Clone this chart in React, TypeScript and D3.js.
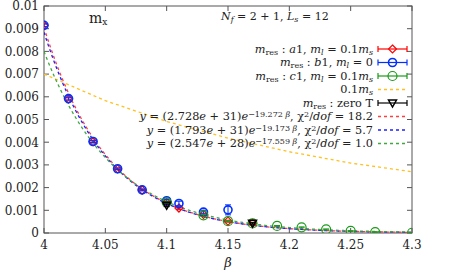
import React from "react";
import * as d3 from "d3";

// a1, m_l = 0.1 m_s
const betaA = [4.0, 4.02, 4.04, 4.06, 4.08, 4.1, 4.11, 4.13, 4.15, 4.17];
const mresA = [9.15e-3, 5.9e-3, 4.02e-3, 2.82e-3, 1.89e-3, 1.35e-3, 1.1e-3, 0.82e-3, 0.52e-3, 0.43e-3];
const errA = [0.06e-3, 0.05e-3, 0.04e-3, 0.03e-3, 0.03e-3, 0.05e-3, 0.06e-3, 0.05e-3, 0.04e-3, 0.03e-3];
// b1, m_l = 0
const betaB = [4.0, 4.02, 4.04, 4.06, 4.08, 4.1, 4.11, 4.13, 4.15];
const mresB = [9.15e-3, 5.92e-3, 4.03e-3, 2.83e-3, 1.9e-3, 1.42e-3, 1.3e-3, 0.92e-3, 1.02e-3];
const errB = [0.06e-3, 0.06e-3, 0.05e-3, 0.04e-3, 0.04e-3, 0.06e-3, 0.1e-3, 0.08e-3, 0.22e-3];
// c1, m_l = 0.1 m_s
const betaC = [4.1, 4.13, 4.15, 4.17, 4.19, 4.21, 4.23, 4.25, 4.27, 4.3];
const mresC = [1.35e-3, 0.78e-3, 0.52e-3, 0.42e-3, 0.31e-3, 0.25e-3, 0.16e-3, 0.09e-3, 0.04e-3, 0.01e-3];
const errC = [0.05e-3, 0.04e-3, 0.03e-3, 0.03e-3, 0.02e-3, 0.02e-3, 0.02e-3, 0.01e-3, 0.01e-3, 0.01e-3];
// zero T
const betaT = [4.1, 4.17];
const mresT = [1.22e-3, 0.43e-3];
const errT = [0.06e-3, 0.04e-3];
// 0.1 m_s
const betaMs = [4.0, 4.05, 4.1, 4.15, 4.2, 4.25, 4.3];
const ms01 = [7.0e-3, 5.83e-3, 4.91e-3, 4.18e-3, 3.58e-3, 3.08e-3, 2.7e-3];
// fits y = A e^{-b beta}
const fitA = [2.728e31, 1.793e31, 2.547e28];
const fitB = [19.272, 19.173, 17.559];

const xTicks = [4, 4.05, 4.1, 4.15, 4.2, 4.25, 4.3];
const yTicks = [0, 0.001, 0.002, 0.003, 0.004, 0.005, 0.006, 0.007, 0.008, 0.009, 0.01];

const RED = "#ff0000";
const BLUE = "#0030ff";
const GREEN = "#1a9a1a";
const YEL = "#ffc020";
const FONT = "DejaVu Serif";

const left = 44, right = 412, top = 6, bottom = 233;

const Diamond = ({ x, y, c }: any) => (
  <path d={`M${x},${y - 4}L${x + 4},${y}L${x},${y + 4}L${x - 4},${y}Z`} fill="none" stroke={c} strokeWidth={1.2} />
);
const Circ = ({ x, y, c, r = 4, w = 1.2 }: any) => (
  <circle cx={x} cy={y} r={r} fill="none" stroke={c} strokeWidth={w} />
);
const Tri = ({ x, y, c }: any) => (
  <path d={`M${x - 4},${y - 3}L${x + 4},${y - 3}L${x},${y + 4}Z`} fill="none" stroke={c} strokeWidth={1.5} />
);

export default function App() {
  const x = d3.scaleLinear().domain([4, 4.3]).range([left, right]);
  const y = d3.scaleLinear().domain([0, 0.01]).range([bottom, top]);

  const line = d3.line<[number, number]>().x((d) => x(d[0])).y((d) => y(d[1]));
  const grid = d3.range(4, 4.3001, 0.002);
  const fitColors = ["#ff4040", "#2020ff", "#40a840"];
  const fits = fitA.map((A, i) => line(grid.map((b) => [b, A * Math.exp(-fitB[i] * b)] as [number, number])));
  const msPath = line(betaMs.map((b, i) => [b, ms01[i]] as [number, number]));

  const errBars = (bs: number[], vs: number[], es: number[], c: string) =>
    bs.map((b, i) => (
      <g key={"e" + i} stroke={c} strokeWidth={1}>
        <line x1={x(b)} x2={x(b)} y1={y(vs[i] - es[i])} y2={y(vs[i] + es[i])} />
        <line x1={x(b) - 3} x2={x(b) + 3} y1={y(vs[i] - es[i])} y2={y(vs[i] - es[i])} />
        <line x1={x(b) - 3} x2={x(b) + 3} y1={y(vs[i] + es[i])} y2={y(vs[i] + es[i])} />
      </g>
    ));

  const rowY = [49, 62.5, 76, 89.5, 103, 116.5, 130, 143.5];
  const tx = 373;
  const s1 = 378, s2 = 407, sm = 392.5;
  const legendBar = (yy: number, c: string, mark: React.ReactNode) => (
    <g>
      <g stroke={c} strokeWidth={1.2}>
        <line x1={s1} x2={s2} y1={yy} y2={yy} />
        <line x1={s1} x2={s1} y1={yy - 3} y2={yy + 3} />
        <line x1={s2} x2={s2} y1={yy - 3} y2={yy + 3} />
      </g>
      {mark}
    </g>
  );
  const sub = (t: string) => (
    <tspan baselineShift="-25%" fontSize="8px" fontStyle="normal">{t}</tspan>
  );
  const mres = (
    <>
      <tspan fontStyle="italic">m</tspan>
      {sub("res")}
      <tspan> : </tspan>
    </>
  );
  const fitText = (a: string, e: string, b: string, chi: string) => (
    <>
      <tspan fontStyle="italic">y</tspan> = ({a}<tspan fontStyle="italic">e</tspan> + {e})
      <tspan fontStyle="italic">e</tspan>
      <tspan baselineShift="40%" fontSize="8px">−{b} <tspan fontStyle="italic">β</tspan></tspan>
      <tspan>, χ</tspan>
      <tspan baselineShift="40%" fontSize="8px">2</tspan>
      <tspan>/</tspan><tspan fontStyle="italic">dof</tspan> = {chi}
    </>
  );

  return (
    <svg width={457} height={274} style={{ position: "absolute", left: 0, top: 0 }} fontFamily={FONT}>
      <defs>
        <clipPath id="pc">
          <rect x={left} y={top} width={right - left} height={bottom - top} />
        </clipPath>
      </defs>
      <rect width={457} height={274} fill="#fff" />

      {/* frame and ticks */}
      <g stroke="#555" strokeWidth={1} fill="none">
        <rect x={left} y={top} width={right - left} height={bottom - top} />
        {yTicks.map((t) => (
          <g key={t}>
            <line x1={left} x2={left + 5} y1={y(t)} y2={y(t)} />
            <line x1={right} x2={right - 5} y1={y(t)} y2={y(t)} />
          </g>
        ))}
        {xTicks.map((t) => (
          <g key={t}>
            <line x1={x(t)} x2={x(t)} y1={bottom} y2={bottom - 5} />
            <line x1={x(t)} x2={x(t)} y1={top} y2={top + 5} />
          </g>
        ))}
      </g>
      <g fontSize="12px" fill="#222">
        {yTicks.map((t) => (
          <text key={t} x={39} y={y(t)} dy="0.36em" textAnchor="end">
            {t === 0 ? "0" : d3.format(".3~f")(t)}
          </text>
        ))}
        {xTicks.map((t) => (
          <text key={t} x={x(t)} y={249} textAnchor="middle">
            {d3.format("~g")(t)}
          </text>
        ))}
        <text x={228} y={267} textAnchor="middle" fontStyle="italic" fontSize="13px">β</text>
      </g>

      {/* titles */}
      <text x={89} y={23} fontSize="14px" fill="#222">
        m<tspan baselineShift="-25%" fontSize="9px">x</tspan>
      </text>
      <text x={221} y={20} fontSize="11px" fill="#222">
        <tspan fontStyle="italic">N</tspan>
        <tspan baselineShift="-25%" fontSize="8px" fontStyle="italic">f</tspan> = 2 + 1,{" "}
        <tspan fontStyle="italic">L</tspan>
        <tspan baselineShift="-25%" fontSize="8px" fontStyle="italic">s</tspan> = 12
      </text>

      {/* curves */}
      <g clipPath="url(#pc)" fill="none" strokeWidth={1.3} strokeDasharray="3,3">
        <path d={msPath || ""} stroke={YEL} />
        {fits.map((d, i) => (
          <path key={i} d={d || ""} stroke={fitColors[i]} />
        ))}
      </g>

      {/* points */}
      <g clipPath="url(#pc)">
        {errBars(betaA, mresA, errA, RED)}
        {betaA.map((b, i) => <Diamond key={i} x={x(b)} y={y(mresA[i])} c={RED} />)}
        {errBars(betaB, mresB, errB, BLUE)}
        {betaB.map((b, i) => <Circ key={i} x={x(b)} y={y(mresB[i])} c={BLUE} r={4} w={1.6} />)}
        {errBars(betaC, mresC, errC, GREEN)}
        {betaC.map((b, i) => <Circ key={i} x={x(b)} y={y(mresC[i])} c={GREEN} r={4.5} />)}
        {errBars(betaT, mresT, errT, "#000")}
        {betaT.map((b, i) => <Tri key={i} x={x(b)} y={y(mresT[i])} c="#000" />)}
      </g>

      {/* legend */}
      <g fontSize="11.3px" fill="#222" textAnchor="end">
        <text x={tx} y={rowY[0]} dy="0.35em">
          {mres}<tspan fontStyle="italic">a</tspan>1, <tspan fontStyle="italic">m</tspan>
          <tspan baselineShift="-25%" fontSize="8px" fontStyle="italic">l</tspan> = 0.1
          <tspan fontStyle="italic">m</tspan><tspan baselineShift="-25%" fontSize="8px" fontStyle="italic">s</tspan>
        </text>
        <text x={tx} y={rowY[1]} dy="0.35em">
          {mres}<tspan fontStyle="italic">b</tspan>1, <tspan fontStyle="italic">m</tspan>
          <tspan baselineShift="-25%" fontSize="8px" fontStyle="italic">l</tspan> = 0
        </text>
        <text x={tx} y={rowY[2]} dy="0.35em">
          {mres}<tspan fontStyle="italic">c</tspan>1, <tspan fontStyle="italic">m</tspan>
          <tspan baselineShift="-25%" fontSize="8px" fontStyle="italic">l</tspan> = 0.1
          <tspan fontStyle="italic">m</tspan><tspan baselineShift="-25%" fontSize="8px" fontStyle="italic">s</tspan>
        </text>
        <text x={tx} y={rowY[3]} dy="0.35em">
          0.1<tspan fontStyle="italic">m</tspan><tspan baselineShift="-25%" fontSize="8px" fontStyle="italic">s</tspan>
        </text>
        <text x={tx} y={rowY[4]} dy="0.35em">
          {mres}zero T
        </text>
        <text x={tx} y={rowY[5]} dy="0.35em">{fitText("2.728", "31", "19.272", "18.2")}</text>
        <text x={tx} y={rowY[6]} dy="0.35em">{fitText("1.793", "31", "19.173", "5.7")}</text>
        <text x={tx} y={rowY[7]} dy="0.35em">{fitText("2.547", "28", "17.559", "1.0")}</text>
      </g>
      {legendBar(rowY[0], RED, <Diamond x={sm} y={rowY[0]} c={RED} />)}
      {legendBar(rowY[1], BLUE, <Circ x={sm} y={rowY[1]} c={BLUE} r={4} w={1.6} />)}
      {legendBar(rowY[2], GREEN, <Circ x={sm} y={rowY[2]} c={GREEN} r={4.5} />)}
      <g fill="none" strokeWidth={1.3} strokeDasharray="3,3">
        <line x1={s1} x2={s2} y1={rowY[3]} y2={rowY[3]} stroke={YEL} />
        <line x1={s1} x2={s2} y1={rowY[5]} y2={rowY[5]} stroke={fitColors[0]} />
        <line x1={s1} x2={s2} y1={rowY[6]} y2={rowY[6]} stroke={fitColors[1]} />
        <line x1={s1} x2={s2} y1={rowY[7]} y2={rowY[7]} stroke={fitColors[2]} />
      </g>
      {legendBar(rowY[4], "#000", <Tri x={sm} y={rowY[4]} c="#000" />)}
    </svg>
  );
}
